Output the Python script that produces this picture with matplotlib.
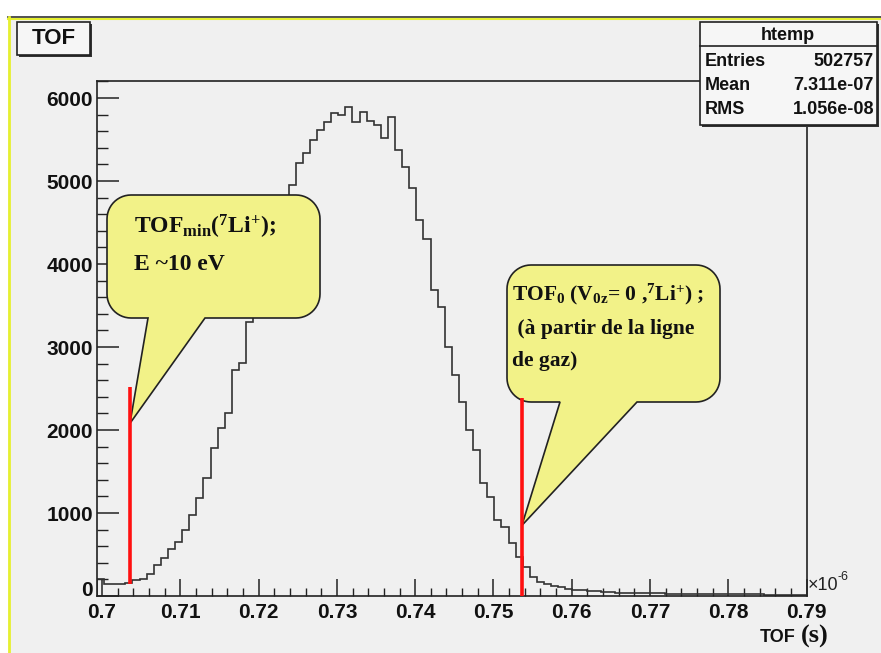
import numpy as np
import matplotlib.pyplot as plt
from matplotlib.patches import Polygon, Rectangle
from matplotlib.lines import Line2D

plt.rcParams['mathtext.fontset'] = 'custom'
plt.rcParams['mathtext.rm'] = 'Liberation Serif:bold'
plt.rcParams['mathtext.it'] = 'Liberation Serif:bold'
plt.rcParams['mathtext.bf'] = 'Liberation Serif:bold'

W, H = 881, 653

# TOF histogram (x in units of 1e-6 s), 100 bins
tof_lo, tof_hi = 0.69936, 0.7900
counts = [200, 150, 140, 140, 160, 190, 200, 260, 370, 460,
          570, 650, 800, 970, 1180, 1420, 1780, 2020, 2200, 2720,
          2810, 3300, 3700, 4050, 4350, 4600, 4800, 4950, 5220, 5340,
          5490, 5610, 5710, 5820, 5790, 5890, 5710, 5830, 5720, 5680,
          5520, 5770, 5370, 5170, 4920, 4530, 4300, 3690, 3480, 3000,
          2660, 2340, 2000, 1760, 1360, 1190, 920, 830, 640, 470,
          350, 230, 170, 150, 120, 105, 85, 75, 72, 65,
          55, 48, 45, 42, 40, 38, 36, 35, 33, 32,
          30, 30, 28, 27, 26, 25, 24, 24, 22, 22,
          21, 20, 20, 19, 18, 18, 17, 16, 16, 15]

# red markers: TOF_min and TOF_0
marker_x = [0.70357, 0.75363]
marker_lo = [140, 0]
marker_hi = [2520, 2390]
tip_y = [2080, 850]

stats_names = ['Entries', 'Mean', 'RMS']
stats_vals = ['502757', '7.311e-07', '1.056e-08']

xticks = [0.70, 0.71, 0.72, 0.73, 0.74, 0.75, 0.76, 0.77, 0.78, 0.79]
xticklabels = ['0.7', '0.71', '0.72', '0.73', '0.74', '0.75', '0.76', '0.77', '0.78', '0.79']
yticks = [0, 1000, 2000, 3000, 4000, 5000, 6000]

yellow = '#f2f288'
bg = '#f0f0f0'
sans = 'Liberation Sans'
serif = 'Liberation Serif'


def fx(px):
    return px / W


def fy(py):
    return 1 - py / H


fig = plt.figure(figsize=(W / 100, H / 100), dpi=100, facecolor='white')

# ROOT canvas background with yellow border
fig.patches.append(Rectangle((fx(8), 0), fx(W) - fx(8), fy(17), transform=fig.transFigure,
                             facecolor=bg, edgecolor='none', zorder=-5))
fig.lines.append(Line2D([fx(8), 1], [fy(16.5), fy(16.5)], transform=fig.transFigure, color='#333', lw=1.2))
fig.lines.append(Line2D([fx(8), 1], [fy(18.5), fy(18.5)], transform=fig.transFigure, color='#e6f030', lw=1.5))
fig.lines.append(Line2D([fx(8.5), fx(8.5)], [0, fy(17)], transform=fig.transFigure, color='#e6f030', lw=2))

ax = fig.add_axes([fx(97), fy(596), fx(807) - fx(97), fy(81) - fy(596)])
ax.set_facecolor(bg)

edges = np.linspace(tof_lo, tof_hi, len(counts) + 1)
ax.stairs(counts, edges, baseline=0, color='#333333', lw=1.2, zorder=2)

ax.set_xlim(tof_lo, tof_hi + 0.00005)
ax.set_ylim(0, 6205)

ax.set_xticks(xticks)
ax.set_xticklabels(xticklabels)
ax.set_xticks(np.arange(0.700, 0.7901, 0.002), minor=True)
ax.set_yticks(yticks)
ax.set_yticks(np.arange(0, 6201, 200), minor=True)
ax.tick_params(axis='both', which='both', direction='in', colors='#222')
ax.tick_params(axis='x', which='major', length=12, width=1.1, pad=5)
ax.tick_params(axis='x', which='minor', length=6, width=1.0)
ax.tick_params(axis='y', which='major', length=16, width=1.1, pad=3)
ax.tick_params(axis='y', which='minor', length=8, width=1.0)
for lab in ax.get_xticklabels() + ax.get_yticklabels():
    lab.set_fontfamily(sans)
    lab.set_fontweight('bold')
    lab.set_fontsize(15)
    lab.set_color('#111')
ax.get_yticklabels()[0].set_verticalalignment('baseline')
for sp in ax.spines.values():
    sp.set_color('#222')
    sp.set_linewidth(1.2)


def to_px(x, y):
    dx, dy = ax.transData.transform((x, y))
    return dx, H - dy


def callout(x0, y0, x1, y1, r, bl, br, tip):
    def arc(cx, cy, a0, a1):
        t = np.radians(np.linspace(a0, a1, 14))
        return [(cx + r * np.cos(a), cy + r * np.sin(a)) for a in t]
    pts = []
    pts += arc(x0 + r, y0 + r, 180, 270)
    pts += arc(x1 - r, y0 + r, 270, 360)
    pts += arc(x1 - r, y1 - r, 0, 90)
    pts += [(br, y1), tip, (bl, y1)]
    pts += arc(x0 + r, y1 - r, 90, 180)
    return [(fx(px), fy(py)) for px, py in pts]


tip1 = to_px(marker_x[0], tip_y[0])
tip2 = to_px(marker_x[1], tip_y[1])
ax.add_patch(Polygon(callout(107, 195, 320, 318, 24, 148, 205, tip1), closed=True,
                     transform=fig.transFigure, facecolor=yellow, edgecolor='#222',
                     lw=1.2, clip_on=False, zorder=3))
ax.add_patch(Polygon(callout(507, 265, 720, 402, 24, 560, 637, tip2), closed=True,
                     transform=fig.transFigure, facecolor=yellow, edgecolor='#222',
                     lw=1.2, clip_on=False, zorder=3))

# red lines
ax.vlines(marker_x, marker_lo, marker_hi, color='#ff1010', lw=2.6, zorder=4)

# callout texts
tkw = dict(transform=fig.transFigure, family=serif, weight='bold',
           color='#111', va='baseline', ha='left', zorder=5)
ax.text(fx(134), fy(234), r'TOF$_{\mathrm{min}}$($^{7}$Li$^{+}$);', fontsize=17, **tkw)
ax.text(fx(134), fy(270), 'E ~10 eV', fontsize=17, **tkw)
ax.text(fx(512), fy(300), r'TOF$_{0}$ (V$_{0z}$= 0 ,$^{7}$Li$^{+}$) ;', fontsize=15.5, **tkw)
ax.text(fx(512), fy(334), ' (à partir de la ligne', fontsize=15.5, **tkw)
ax.text(fx(512), fy(366), 'de gaz)', fontsize=15.5, **tkw)

# exponent and axis title
fig.text(fx(808), fy(590), '×10', family=sans, fontsize=13, color='#222', va='baseline')
fig.text(fx(838), fy(580), '-6', family=sans, fontsize=9, color='#222', va='baseline')
fig.text(fx(795), fy(642), 'TOF', family=sans, weight='bold', fontsize=13, color='#111',
         ha='right', va='baseline')
fig.text(fx(801), fy(643), '(s)', family=serif, weight='bold', fontsize=19, color='#111',
         ha='left', va='baseline')

# title box
fig.patches.append(Rectangle((fx(19), fy(57)), fx(73), fy(0) - fy(33), transform=fig.transFigure,
                             facecolor='#333', edgecolor='none'))
fig.patches.append(Rectangle((fx(17), fy(55)), fx(73), fy(0) - fy(33), transform=fig.transFigure,
                             facecolor='#f6f6f6', edgecolor='#222', lw=1.2))
fig.text(fx(53.5), fy(39), 'TOF', family=sans, weight='bold', fontsize=16, color='#111',
         ha='center', va='center')

# stats box
fig.patches.append(Rectangle((fx(702), fy(127)), fx(177), fy(0) - fy(103), transform=fig.transFigure,
                             facecolor='#333', edgecolor='none'))
fig.patches.append(Rectangle((fx(700), fy(125)), fx(177), fy(0) - fy(103), transform=fig.transFigure,
                             facecolor='#f6f6f6', edgecolor='#222', lw=1.2))
fig.lines.append(Line2D([fx(700), fx(877)], [fy(46), fy(46)], transform=fig.transFigure,
                        color='#222', lw=1.2))
fig.text(fx(788), fy(35), 'htemp', family=sans, weight='bold', fontsize=13, color='#111',
         ha='center', va='center')
for i, (name, val) in enumerate(zip(stats_names, stats_vals)):
    yy = fy(61 + 24.5 * i)
    fig.text(fx(705), yy, name, family=sans, weight='bold', fontsize=13, color='#111',
             ha='left', va='center')
    fig.text(fx(874), yy, val, family=sans, weight='bold', fontsize=13, color='#111',
             ha='right', va='center')

fig.savefig('out.png', dpi=100, facecolor=fig.get_facecolor())
